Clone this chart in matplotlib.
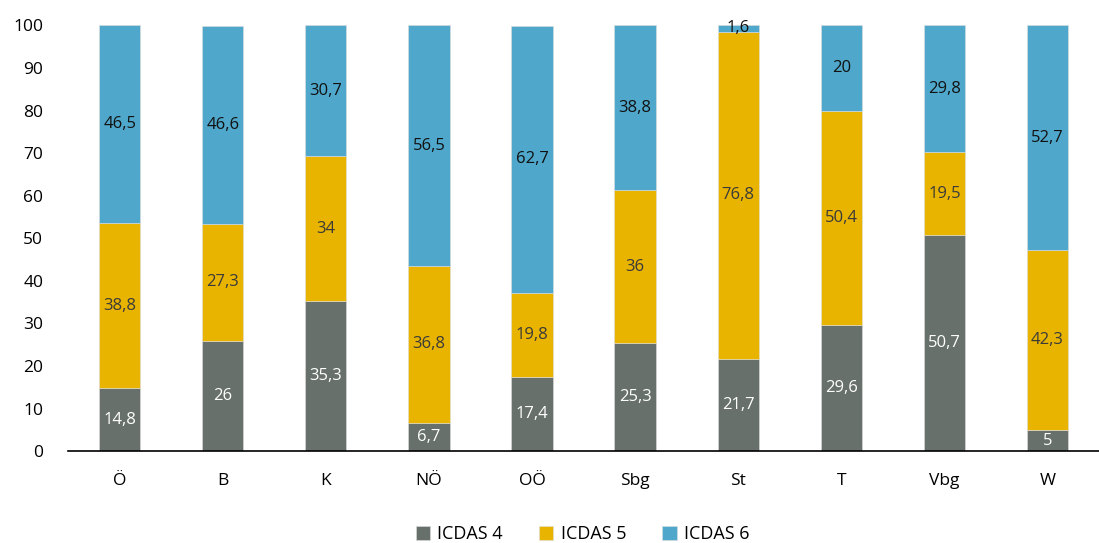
import numpy as np
from matplotlib import pyplot as plt

regions = ['Ö', 'B', 'K', 'NÖ', 'OÖ', 'Sbg', 'St', 'T', 'Vbg', 'W']
icdas4 = [14.8, 26, 35.3, 6.7, 17.4, 25.3, 21.7, 29.6, 50.7, 5]
icdas5 = [38.8, 27.3, 34, 36.8, 19.8, 36, 76.8, 50.4, 19.5, 42.3]
icdas6 = [46.5, 46.6, 30.7, 56.5, 62.7, 38.8, 1.6, 20, 29.8, 52.7]

series = [('ICDAS 4', icdas4, '#67706a', 'white'),
          ('ICDAS 5', icdas5, '#e8b400', '#3a3a3a'),
          ('ICDAS 6', icdas6, '#4fa8cb', '#111111')]

plt.rcParams['font.family'] = ['Open Sans', 'DejaVu Sans']

fig = plt.figure(figsize=(10.99, 5.43), dpi=100)
ax = fig.add_axes([0.062, 0.169, 0.938, 0.789])

x = np.arange(len(regions))
bottom = np.zeros(len(regions))
for name, vals, color, tcolor in series:
    vals = np.array(vals)
    ax.bar(x, vals, width=0.4, bottom=bottom, color=color, label=name,
           edgecolor='#dddddd', linewidth=0.4)
    for xi, b, v in zip(x, bottom, vals):
        txt = ('%g' % v).replace('.', ',')
        ax.text(xi, b + v / 2, txt, ha='center', va='center',
                fontsize=12, color=tcolor)
    bottom += vals

ax.set_xlim(-0.5, 9.5)
ax.set_ylim(0, 100.6)
ax.set_yticks(range(0, 101, 10))
ax.set_xticks(x)
ax.set_xticklabels(regions)
ax.tick_params(axis='both', length=0, labelsize=12.5)
ax.tick_params(axis='x', pad=16)
ax.tick_params(axis='y', pad=18)
for s in ['top', 'right', 'left']:
    ax.spines[s].set_visible(False)
ax.spines['bottom'].set_linewidth(1.2)

fig.legend(loc='lower center', bbox_to_anchor=(0.53, -0.03), ncol=3,
           frameon=False, fontsize=13, handlelength=0.8, handleheight=0.8,
           handletextpad=0.4, columnspacing=2.0)

plt.savefig('out.png')
